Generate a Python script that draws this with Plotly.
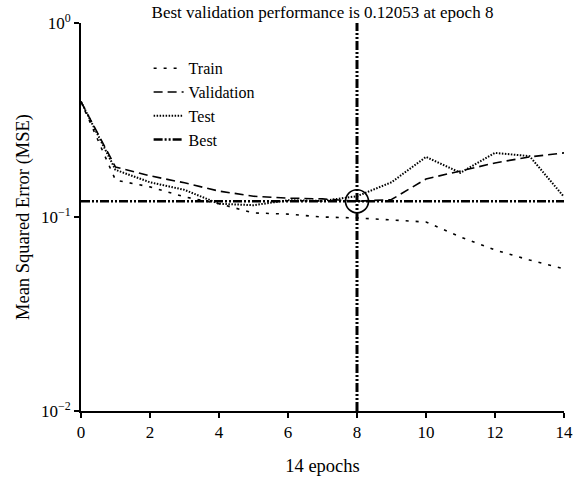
import plotly.graph_objects as go

epochs = list(range(15))
train = [0.393, 0.155, 0.143, 0.127, 0.117, 0.105, 0.1035, 0.100, 0.0989, 0.0966, 0.0942, 0.0789, 0.0676, 0.060, 0.054]
validation = [0.393, 0.181, 0.163, 0.150, 0.136, 0.128, 0.125, 0.124, 0.12053, 0.123, 0.157, 0.173, 0.190, 0.204, 0.214]
test = [0.393, 0.175, 0.151, 0.138, 0.117, 0.115, 0.122, 0.121, 0.128, 0.151, 0.204, 0.169, 0.214, 0.206, 0.127]
best_epoch = 8
best_perf = 0.12053
x_range = [0, 14]
y_range = [0.01, 1]
x_ticks = [0, 2, 4, 6, 8, 10, 12, 14]
y_tickvals = [1, 0.1, 0.01]
y_ticktext = ["10<sup>0</sup>", "10<sup>\u22121</sup>", "10<sup>\u22122</sup>"]

FONT = "Liberation Serif, Times New Roman, serif"
best_dash = "9px,2px,2px,2px,2px,2px"

fig = go.Figure()
fig.add_trace(go.Scatter(x=epochs, y=train, mode="lines", name="Train",
                         line=dict(color="black", width=1.6, dash="3px,7px")))
fig.add_trace(go.Scatter(x=epochs, y=validation, mode="lines", name="Validation",
                         line=dict(color="black", width=1.6, dash="9px,5px")))
fig.add_trace(go.Scatter(x=epochs, y=test, mode="lines", name="Test",
                         line=dict(color="black", width=2, dash="1.5px,1.5px")))
fig.add_trace(go.Scatter(x=x_range, y=[best_perf, best_perf], mode="lines", name="Best",
                         line=dict(color="black", width=2.5, dash=best_dash)))
fig.add_trace(go.Scatter(x=[best_epoch, best_epoch], y=y_range, mode="lines", showlegend=False,
                         line=dict(color="black", width=3, dash=best_dash)))
fig.add_trace(go.Scatter(x=[best_epoch], y=[best_perf], mode="markers", showlegend=False,
                         marker=dict(symbol="circle-open", size=23, color="black",
                                     line=dict(width=1.6, color="black"))))

fig.update_layout(
    width=578, height=480,
    margin=dict(l=81, r=14, t=23, b=69, autoexpand=False),
    paper_bgcolor="white", plot_bgcolor="white",
    font=dict(family=FONT, size=17, color="black"),
    title=dict(text="Best validation performance is 0.12053 at epoch 8",
               x=0.5, xref="paper", xanchor="center",
               y=1 - 12 / 480, yref="container", yanchor="middle",
               font=dict(family=FONT, size=17, color="black")),
    showlegend=True,
    legend=dict(x=0.14, y=0.927, xanchor="left", yanchor="top",
                bgcolor="rgba(0,0,0,0)", borderwidth=0,
                font=dict(family=FONT, size=16, color="black"),
                tracegroupgap=0),
    xaxis=dict(range=x_range, tickvals=x_ticks, showgrid=False, zeroline=False,
               automargin=False,
               showline=True, linecolor="black", linewidth=2,
               ticks="outside", ticklen=5, tickwidth=2, tickcolor="black",
               title=dict(text="14 epochs", standoff=18,
                          font=dict(family=FONT, size=18.5)),
               tickfont=dict(family=FONT, size=17)),
    yaxis=dict(type="log", range=[-2, 0], tickvals=y_tickvals, ticktext=y_ticktext,
               showgrid=False, zeroline=False, automargin=False,
               showline=True, linecolor="black", linewidth=2,
               ticks="outside", ticklen=5, tickwidth=2, tickcolor="black",
               title=dict(text="Mean Squared Error (MSE)", standoff=6,
                          font=dict(family=FONT, size=18.5)),
               tickfont=dict(family=FONT, size=17)),
)

fig.write_html("out.html")
